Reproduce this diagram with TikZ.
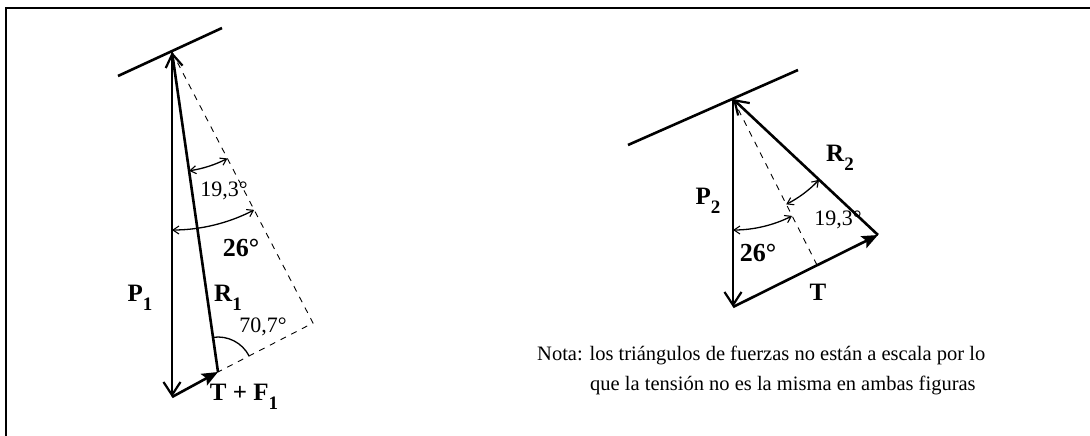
\documentclass[tikz,border=0pt]{standalone}
\usepackage{fontspec}
\setmainfont{Liberation Serif}
\usetikzlibrary{arrows.meta,calc}
\newcommand\lsub[1]{\raisebox{-9pt}{\fontsize{19}{19}\selectfont #1}}
\begin{document}
\begin{tikzpicture}[x=1pt,y=-1pt,
  barbhead/.tip={Straight Barb[length=13pt,width=17pt,line width=2.2pt]},
  fillhead/.tip={Stealth[length=16pt,width=13pt,inset=3pt]},
  smallhead/.tip={Straight Barb[length=6pt,width=8pt,line width=1.1pt]},
  force/.style={line width=2.6pt},
  wall/.style={line width=2.6pt},
  guide/.style={line width=0.9pt,dash pattern=on 6pt off 6pt},
  anglearc/.style={line width=1.3pt},
  frame/.style={line width=2.4pt},
  lbl/.style={inner sep=0pt,font=\bfseries\fontsize{25}{25}\selectfont},
  deg/.style={inner sep=0pt,font=\fontsize{22}{22}\selectfont},
  bigdeg/.style={inner sep=0pt,font=\bfseries\fontsize{26}{26}\selectfont},
  note/.style={inner sep=0pt,anchor=west,font=\fontsize{20.5}{24}\selectfont}
]
\useasboundingbox (0,0) rectangle (1090,436);
% frame
\coordinate (F0) at (6,436);
\coordinate (F1) at (6,8);
\coordinate (F2) at (1090,8);
\draw[frame] (F0) -- (F1) -- (F2);

% ---------- left figure ----------
\coordinate (W1a) at (118,76);
\coordinate (W1b) at (222,28);
\coordinate (A1) at (172,52);
\coordinate (B1) at (172,397);
\coordinate (C1) at (218,372);
\coordinate (D1) at (313,323);
\draw[wall] (W1a) -- (W1b);
\draw[guide] (A1) -- (D1) -- (C1);
\draw[force,-barbhead] (A1) -- (B1);
\draw[force,-fillhead] (B1) -- (C1);
\draw[force,-barbhead] (C1) -- (A1);
\draw[anglearc,smallhead-smallhead] ($(A1)+(81.8:120)$) arc[start angle=81.8,end angle=62.5,radius=120];
\draw[anglearc,smallhead-smallhead] ($(A1)+(90:178)$) arc[start angle=90,end angle=62.5,radius=178];
\draw[anglearc] ($(C1)+(261.8:35)$) arc[start angle=261.8,end angle=332.7,radius=35];
\node[deg] (a193l) at (224,191) {19,3°};
\node[bigdeg] (a26l) at (241,248) {26°};
\node[deg] (a707) at (263,327) {70,7°};
\node[lbl] (P1) at (140,298) {P\lsub{1}};
\node[lbl] (R1) at (228,298) {R\lsub{1}};
\node[lbl] (TF) at (244,397) {T + F\lsub{1}};

% ---------- right figure ----------
\coordinate (W2a) at (628,145);
\coordinate (W2b) at (798,70);
\coordinate (A2) at (733,99);
\coordinate (B2) at (733,307);
\coordinate (C2) at (878,235);
\coordinate (E2) at (817,265);
\draw[wall] (W2a) -- (W2b);
\draw[guide] (A2) -- (E2);
\draw[force,-barbhead] (A2) -- (B2);
\draw[force,-fillhead] (B2) -- (C2);
\draw[force,-barbhead] (C2) -- (A2);
\draw[anglearc,smallhead-smallhead] ($(A2)+(63.2:118)$) arc[start angle=63.2,end angle=43.2,radius=118];
\draw[anglearc,smallhead-smallhead] ($(A2)+(90:131)$) arc[start angle=90,end angle=63.2,radius=131];
\node[deg] (a193r) at (838,220) {19,3°};
\node[bigdeg] (a26r) at (758,253) {26°};
\node[lbl] (P2) at (708,201) {P\lsub{2}};
\node[lbl] (R2) at (840,158) {R\lsub{2}};
\node[lbl] (T2) at (818,292) {T};

% ---------- note ----------
\node[note] (n1) at (537,355) {Nota: los triángulos de fuerzas no están a escala por lo};
\node[note] (n2) at (590,385) {que la tensión no es la misma en ambas figuras};
\end{tikzpicture}
\end{document}
